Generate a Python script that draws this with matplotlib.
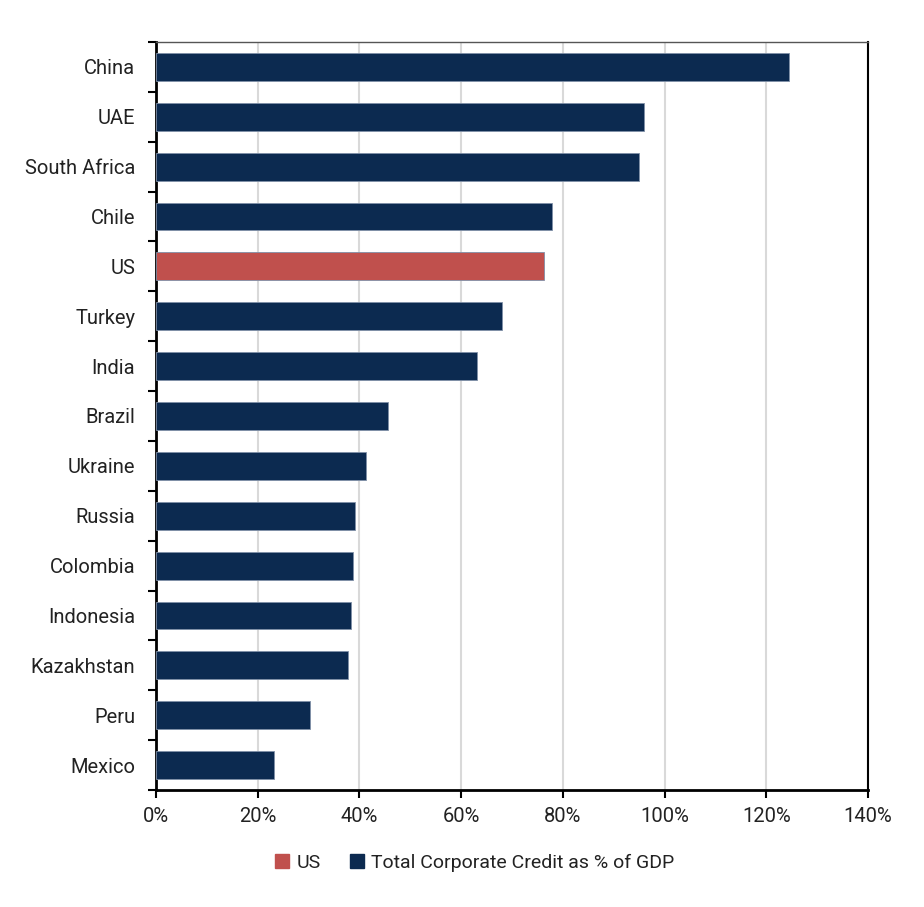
import matplotlib.pyplot as plt
from matplotlib.patches import Patch
from matplotlib.ticker import FuncFormatter, MultipleLocator

plt.rcParams['font.family'] = ['Roboto', 'DejaVu Sans']

countries = ['China', 'UAE', 'South Africa', 'Chile', 'US', 'Turkey', 'India', 'Brazil',
             'Ukraine', 'Russia', 'Colombia', 'Indonesia', 'Kazakhstan', 'Peru', 'Mexico']
credit_pct = [124.5, 95.9, 95.0, 77.9, 76.3, 68.0, 63.1, 45.6,
              41.3, 39.1, 38.7, 38.3, 37.8, 30.3, 23.2]

navy = '#0C2A50'
red = '#C0504D'
colors = [red if c == 'US' else navy for c in countries]

fig = plt.figure(figsize=(9.24, 9.07), dpi=100)
ax = fig.add_axes([0.1688, 0.129, 0.7706, 0.8247])

pos = list(range(len(countries)))
ax.barh(pos, credit_pct, height=0.56, color=colors, edgecolor='#8090A8', linewidth=0.6, zorder=3)
ax.set_ylim(len(countries) - 0.5, -0.5)
ax.set_xlim(0, 140)
ax.xaxis.set_major_locator(MultipleLocator(20))
ax.xaxis.set_major_formatter(FuncFormatter(lambda v, p: f'{v:.0f}%'))

ax.set_yticks(pos)
ax.set_yticklabels(countries)
ax.set_yticks([p - 0.5 for p in range(len(countries) + 1)], minor=True)
ax.tick_params(axis='y', which='major', length=0, pad=15, labelsize=14.5, labelcolor='#222222')
ax.tick_params(axis='y', which='minor', length=6, width=1.5, direction='out')
ax.tick_params(axis='x', length=6, width=1.5, labelsize=14.5, pad=6, labelcolor='#222222')

ax.grid(axis='x', color='#D9D9D9', linewidth=1.5, zorder=0)
ax.spines['top'].set_color('#555555')
ax.spines['top'].set_linewidth(1)
ax.spines['right'].set_linewidth(1.5)
for s in ['left', 'bottom']:
    ax.spines[s].set_linewidth(2)

handles = [Patch(color=red, label='US'), Patch(color=navy, label='Total Corporate Credit as % of GDP')]
fig.legend(handles=handles, loc='center', bbox_to_anchor=(0.514, 0.049), ncol=2, frameon=False,
           fontsize=14, handlelength=0.7, handleheight=0.7, handletextpad=0.4, columnspacing=1.5,
           labelcolor='#222222')

fig.savefig('out.png', dpi=100)
